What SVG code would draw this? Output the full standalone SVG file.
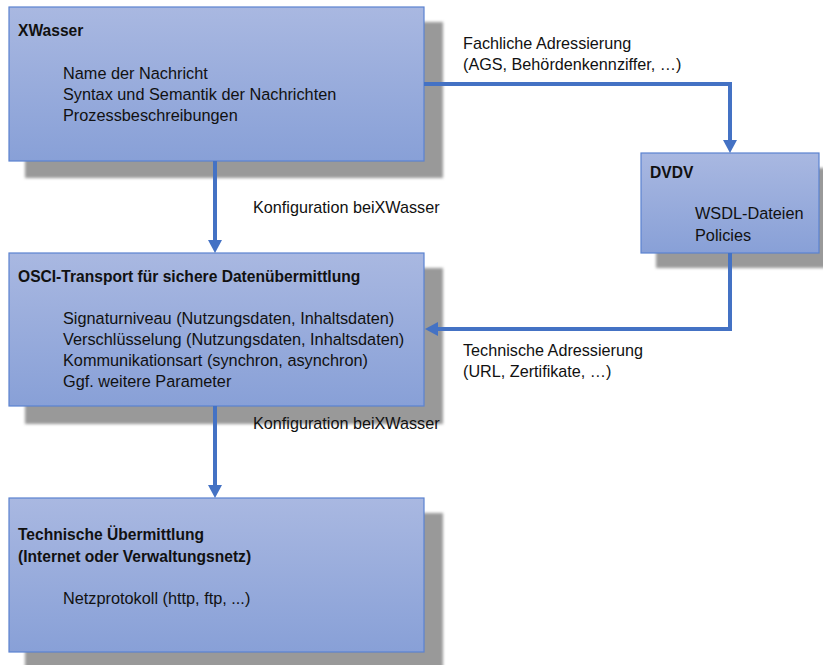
<svg xmlns="http://www.w3.org/2000/svg" width="823" height="665" viewBox="0 0 823 665">
  <defs>
    <linearGradient id="boxFill" x1="0" y1="0" x2="0" y2="1">
      <stop offset="0" stop-color="#a9b8e1"/>
      <stop offset="1" stop-color="#88a0d7"/>
    </linearGradient>
    <filter id="soft" x="-5%" y="-5%" width="110%" height="110%">
      <feGaussianBlur stdDeviation="1.5"/>
    </filter>
    <marker id="arrow" markerUnits="userSpaceOnUse" markerWidth="14" markerHeight="14" refX="1" refY="7" orient="auto">
      <path d="M0,0 L13,7 L0,14 z" fill="#4472c4"/>
    </marker>
  </defs>
  <style>
    .shadow { fill: #999999; filter: url(#soft); }
    .box { fill: url(#boxFill); stroke: #5b82d0; stroke-width: 1.2; }
    .title { font-family: "Liberation Sans", Arial, sans-serif; font-size: 15.6px; font-weight: bold; fill: #111; }
    .body { font-family: "Liberation Sans", Arial, sans-serif; font-size: 16.3px; fill: #111; }
    .label { font-family: "Liberation Sans", Arial, sans-serif; font-size: 16.2px; fill: #111; }
    .conn { fill: none; stroke: #4472c4; stroke-width: 4; marker-end: url(#arrow); }
  </style>
  <rect width="823" height="665" fill="#ffffff"/>

  <g id="xwasser">
    <rect class="shadow" x="25" y="22" width="418" height="156"/>
    <rect class="box" x="9" y="7" width="415" height="154"/>
    <text class="title" x="18" y="36">XWasser</text>
    <text class="body" x="63" y="79">Name der Nachricht</text>
    <text class="body" x="63" y="100">Syntax und Semantik der Nachrichten</text>
    <text class="body" x="63" y="121">Prozessbeschreibungen</text>
  </g>

  <g id="dvdv">
    <rect class="shadow" x="656" y="168" width="180" height="100"/>
    <rect class="box" x="641" y="153" width="178" height="100"/>
    <text class="title" x="650" y="178">DVDV</text>
    <text class="body" x="695" y="219">WSDL-Dateien</text>
    <text class="body" x="695" y="241">Policies</text>
  </g>

  <g id="osci">
    <rect class="shadow" x="25" y="268" width="418" height="156"/>
    <rect class="box" x="9" y="253" width="415" height="153"/>
    <text class="title" x="18" y="282">OSCI-Transport für sichere Datenübermittlung</text>
    <text class="body" x="63" y="324">Signaturniveau (Nutzungsdaten, Inhaltsdaten)</text>
    <text class="body" x="63" y="345">Verschlüsselung (Nutzungsdaten, Inhaltsdaten)</text>
    <text class="body" x="63" y="366">Kommunikationsart (synchron, asynchron)</text>
    <text class="body" x="63" y="387">Ggf. weitere Parameter</text>
  </g>

  <g id="uebermittlung">
    <rect class="shadow" x="25" y="513" width="418" height="156"/>
    <rect class="box" x="9" y="498" width="415" height="154"/>
    <text class="title" x="18" y="540">Technische Übermittlung</text>
    <text class="title" x="18" y="562">(Internet oder Verwaltungsnetz)</text>
    <text class="body" x="63" y="604">Netzprotokoll (http, ftp, ...)</text>
  </g>

  <g id="connectors">
    <path class="conn" d="M424,84 H730 V141"/>
    <path class="conn" d="M730,253 V329 H437"/>
    <path class="conn" d="M215,161 V241"/>
    <path class="conn" d="M215,406 V486"/>
    <text class="label" x="463" y="49">Fachliche Adressierung</text>
    <text class="label" x="463" y="70">(AGS, Behördenkennziffer, …)</text>
    <text class="label" x="253" y="213">Konfiguration beiXWasser</text>
    <text class="label" x="253" y="429">Konfiguration beiXWasser</text>
    <text class="label" x="463" y="356">Technische Adressierung</text>
    <text class="label" x="463" y="377">(URL, Zertifikate, …)</text>
  </g>
</svg>
